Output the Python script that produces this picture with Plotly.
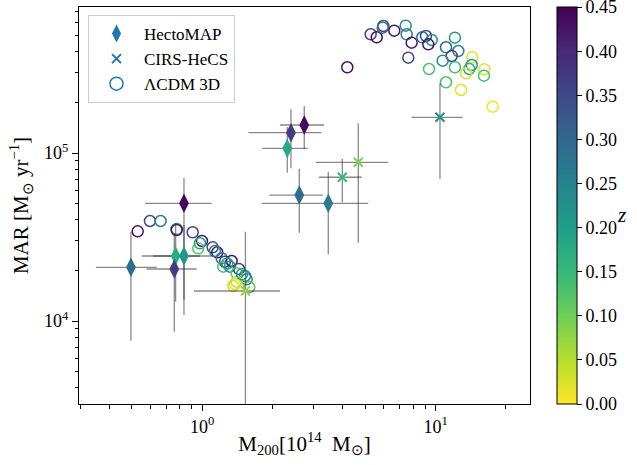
import plotly.graph_objects as go

# ---------------- data ----------------
# HectoMAP clusters
hecto_m = [0.495, 0.835, 0.769, 0.835, 0.759, 2.399, 2.735, 2.313, 2.604, 3.467]
hecto_m_lo = [0.145, 0.267, 0.219, 0.22, 0.181, 0.825, 0.583, 0.506, 0.667, 1.67]
hecto_m_hi = [0.143, 0.262, 0.208, 0.28, 0.187, 0.849, 0.588, 0.516, 0.677, 1.676]
hecto_mar = [20870, 50200, 24380, 24380, 20390, 132100, 146800, 106600, 56200, 50200]
hecto_mar_lo = [13240, 39340, 11350, 11000, 11754, 51000, 41600, 30300, 22660, 25250]
hecto_mar_hi = [13130, 20800, 13930, 12900, 13010, 49900, 43700, 36200, 24100, 27200]
hecto_z = [0.29, 0.44, 0.17, 0.21, 0.37, 0.37, 0.44, 0.18, 0.29, 0.26]

# CIRS-HeCS clusters
cirs_m = [1.531, 3.98, 4.66, 10.43]
cirs_m_lo = [0.61, 0.818, 1.59, 2.54]
cirs_m_hi = [0.621, 0.839, 1.606, 2.62]
cirs_mar = [15090, 71700, 88000, 163100]
cirs_mar_lo = [14000, 20800, 58750, 93100]
cirs_mar_hi = [18900, 20400, 62200, 96900]
cirs_z = [0.07, 0.15, 0.09, 0.22]

# LambdaCDM 3D simulated clusters
lcdm_m = [0.529, 0.597, 0.663, 0.777, 0.777, 0.910, 0.997, 0.977, 0.961, 1.108,
          1.160, 1.134, 1.211, 1.251, 1.230, 1.336, 1.314, 1.436, 1.404, 1.524,
          1.550, 1.590, 1.381, 1.358, 1.404, 1.28, 1.48,
          4.181, 5.266, 5.588, 5.965, 5.929, 6.647, 7.437, 7.510, 7.891, 7.630,
          8.762, 9.087, 9.613, 9.296, 9.361, 12.09, 11.07, 12.50, 11.71, 10.71,
          12.09, 11.07, 14.35, 14.27, 13.93, 13.49, 12.83, 16.15, 16.10, 17.55]
lcdm_mar = [34190, 39370, 39370, 35280, 34800, 33730, 29940, 29010, 27080, 27460,
            25640, 26100, 23620, 22540, 21050, 22760, 21050, 20390, 19230, 18530,
            17710, 15870, 16610, 16160, 17140, 22000, 19000,
            323700, 508800, 488300, 570000, 557000, 534600, 572500, 508800, 453400, 369200,
            488300, 497000, 470500, 443600, 316200, 485600, 425800, 404700, 378000, 354300,
            323700, 263600, 371200, 334100, 316200, 298200, 237100, 314900, 288500, 188700]
lcdm_z = [0.43, 0.36, 0.26, 0.20, 0.43, 0.36, 0.43, 0.20, 0.12, 0.36,
          0.43, 0.26, 0.26, 0.36, 0.13, 0.43, 0.24, 0.36, 0.12, 0.25,
          0.24, 0.13, 0.02, 0.03, 0.04, 0.20, 0.20,
          0.43, 0.36, 0.43, 0.36, 0.27, 0.43, 0.24, 0.25, 0.43, 0.36,
          0.27, 0.36, 0.22, 0.43, 0.13, 0.22, 0.28, 0.26, 0.36, 0.24,
          0.14, 0.13, 0.02, 0.22, 0.17, 0.03, 0.02, 0.02, 0.14, 0.01]

legend_names = ["HectoMAP", "CIRS-HeCS", "ΛCDM 3D"]

x_major_vals = [1, 10]
x_major_text = ["10<sup>0</sup>", "10<sup>1</sup>"]
x_minor_vals = [0.3, 0.4, 0.5, 0.6, 0.7, 0.8, 0.9, 2, 3, 4, 5, 6, 7, 8, 9, 20]
y_major_vals = [1e4, 1e5]
y_major_text = ["10<sup>4</sup>", "10<sup>5</sup>"]
y_minor_vals = [4e3, 5e3, 6e3, 7e3, 8e3, 9e3, 2e4, 3e4, 4e4, 5e4, 6e4, 7e4, 8e4, 9e4,
                2e5, 3e5, 4e5, 5e5, 6e5, 7e5]
cbar_ticks = [0.0, 0.05, 0.10, 0.15, 0.20, 0.25, 0.30, 0.35, 0.40, 0.45]

# ---------------- figure ----------------
FONT = "Liberation Serif"
ERRC = "rgba(40,40,40,0.55)"
LEGC = "#1f77b4"

fig = go.Figure()

fig.add_trace(go.Scatter(
    x=lcdm_m, y=lcdm_mar, mode="markers", showlegend=False,
    marker=dict(symbol="circle-open", size=11, color=lcdm_z, coloraxis="coloraxis",
                line=dict(width=1.5)),
))

fig.add_trace(go.Scatter(
    x=hecto_m, y=hecto_mar, mode="markers", showlegend=False,
    error_x=dict(type="data", symmetric=False, array=hecto_m_hi, arrayminus=hecto_m_lo,
                 color=ERRC, thickness=1.3, width=0),
    error_y=dict(type="data", symmetric=False, array=hecto_mar_hi, arrayminus=hecto_mar_lo,
                 color=ERRC, thickness=1.3, width=0),
    marker=dict(symbol="diamond-tall", size=14, color=hecto_z, coloraxis="coloraxis",
                line=dict(width=0)),
))

fig.add_trace(go.Scatter(
    x=cirs_m, y=cirs_mar, mode="markers", showlegend=False,
    error_x=dict(type="data", symmetric=False, array=cirs_m_hi, arrayminus=cirs_m_lo,
                 color=ERRC, thickness=1.3, width=0),
    error_y=dict(type="data", symmetric=False, array=cirs_mar_hi, arrayminus=cirs_mar_lo,
                 color=ERRC, thickness=1.3, width=0),
    marker=dict(symbol="x-thin", size=9, color=cirs_z, coloraxis="coloraxis",
                line=dict(width=2, color=cirs_z, coloraxis="coloraxis")),
))

leg_symbols = ["diamond-tall", "x-thin", "circle-open"]
for name, sym in zip(legend_names, leg_symbols):
    fig.add_trace(go.Scatter(
        x=[None], y=[None], mode="markers", name=name,
        marker=dict(symbol=sym, size=13 if sym != "x-thin" else 9, color=LEGC,
                    line=dict(width=1.5 if sym == "circle-open" else (2 if sym == "x-thin" else 0),
                              color=LEGC)),
    ))

fig.update_layout(
    template="none",
    width=637, height=465,
    margin=dict(l=79, r=107, t=7, b=61, autoexpand=False),
    paper_bgcolor="white", plot_bgcolor="white",
    font=dict(family=FONT, size=16, color="black"),
    coloraxis=dict(
        colorscale="Viridis", reversescale=True, cmin=0, cmax=0.4502,
        colorbar=dict(
            x=1.06, xanchor="left", xref="paper", xpad=0, ypad=0,
            y=0.5, yanchor="middle", len=1, lenmode="fraction",
            thickness=20, outlinewidth=1, outlinecolor="black",
            tickmode="array", tickvals=cbar_ticks, ticktext=[f"{v:.2f}" for v in cbar_ticks],
            ticks="outside", ticklen=5, tickcolor="black", ticklabeloverflow="allow",
            tickfont=dict(family=FONT, size=18),
        ),
    ),
    legend=dict(
        x=0.02, y=0.98, xanchor="left", yanchor="top",
        bgcolor="white", bordercolor="#cccccc", borderwidth=1,
        font=dict(family=FONT, size=17), tracegroupgap=0, itemwidth=45,
    ),
    xaxis=dict(
        type="log", range=[-0.528, 1.404], automargin=False,
        tickvals=x_major_vals, ticktext=x_major_text,
        ticks="outside", ticklen=6, tickcolor="black",
        minor=dict(tickvals=x_minor_vals, ticks="outside", ticklen=3.5, tickcolor="black", showgrid=False),
        showgrid=False, zeroline=False,
        showline=True, linecolor="black", linewidth=1, mirror=True,
        tickfont=dict(family=FONT, size=18),
        title=dict(text="M<sub>200</sub>[10<sup>14</sup>  M<sub>⊙</sub>]",
                   font=dict(family=FONT, size=21), standoff=0),
    ),
    yaxis=dict(
        type="log", range=[3.506, 5.869], automargin=False,
        tickvals=y_major_vals, ticktext=y_major_text,
        ticks="outside", ticklen=6, tickcolor="black",
        minor=dict(tickvals=y_minor_vals, ticks="outside", ticklen=3.5, tickcolor="black", showgrid=False),
        showgrid=False, zeroline=False,
        showline=True, linecolor="black", linewidth=1, mirror=True,
        tickfont=dict(family=FONT, size=18),
        title=dict(text="MAR [M<sub>⊙</sub> yr<sup>−1</sup>]",
                   font=dict(family=FONT, size=21), standoff=9),
    ),
    annotations=[dict(
        text="<i>z</i>", x=1.188, y=0.476, xref="paper", yref="paper",
        showarrow=False, font=dict(family=FONT, size=21), xanchor="left", yanchor="middle",
    )],
)

fig.write_html("out.html", config={"displayModeBar": False},
               post_script="document.body.style.margin='0px';")
